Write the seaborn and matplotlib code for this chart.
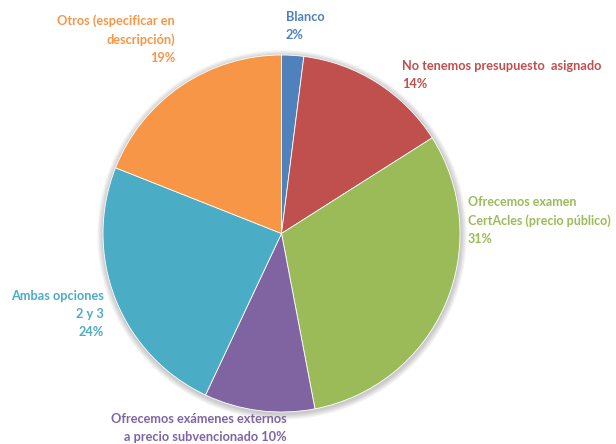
import matplotlib
matplotlib.use("Agg")
import matplotlib.pyplot as plt
import seaborn as sns
from matplotlib.patches import Circle

sns.set_theme(style="white")
plt.rcParams['font.family'] = ['Lato', 'DejaVu Sans']

categories = [
    "Blanco",
    "No tenemos presupuesto  asignado",
    "Ofrecemos examen\nCertAcles (precio público)",
    "Ofrecemos exámenes externos\na precio subvencionado",
    "Ambas opciones\n2 y 3",
    "Otros (especificar en\ndescripción)",
]
values = [2, 14, 31, 10, 24, 19]
colors = ["#4F81BD", "#C0504D", "#9BBB59", "#8064A2", "#4BACC6", "#F79646"]

W, H = 616, 444
fig = plt.figure(figsize=(W / 100, H / 100), dpi=100)
fig.patch.set_facecolor("white")

cx, cy, r = 281.5, 233.5, 178.5
ax = fig.add_axes([(cx - r) / W, (H - cy - r) / H, 2 * r / W, 2 * r / H])

# soft glow-like shadow around the pie, slightly lower
for i in range(5):
    ax.add_patch(Circle((0.003, -0.008), 1.0 + 0.007 * (5 - i), color="black",
                        alpha=0.045, lw=0, zorder=0, clip_on=False))

ax.pie(values, colors=colors, startangle=90, counterclock=False, radius=1.0,
       wedgeprops=dict(linewidth=0.6, edgecolor="white"))
ax.set_xlim(-1, 1)
ax.set_ylim(-1, 1)
ax.set_aspect("equal")
ax.axis("off")

fs = 9.2
def label(x, y, text, color, ha, size=fs):
    fig.text(x / W, 1 - y / H, text, color=color, ha=ha, va="top",
             fontsize=size, fontweight="bold", linespacing=1.6)

label(175, 14, f"{categories[5]}\n{values[5]}%", colors[5], "right")
label(286, 11, f"{categories[0]}\n{values[0]}%", colors[0], "left")
label(402, 60, f"{categories[1]}\n{values[1]}%", colors[1], "left")
label(468, 196, f"{categories[2]}\n{values[2]}%", colors[2], "left", 9.0)
label(104, 290, f"{categories[4]}\n{values[4]}%", colors[4], "right")
label(287, 413, f"{categories[3]} {values[3]}%", colors[3], "right")

fig.savefig("out.png", dpi=100, facecolor="white")
